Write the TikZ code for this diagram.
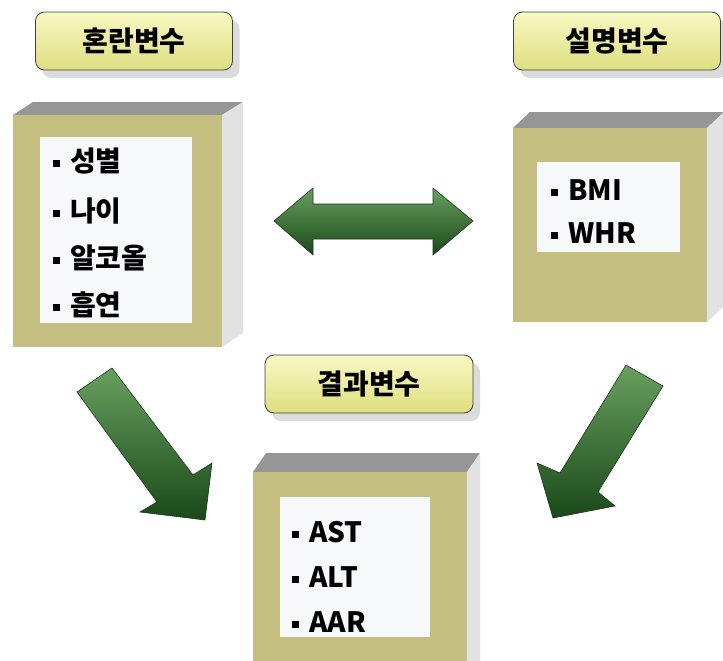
\documentclass[tikz,border=0pt]{standalone}
\usepackage{fontspec}
\setmainfont{Noto Sans CJK KR}
\usetikzlibrary{shadows}

\definecolor{boxfront}{RGB}{196,190,128}
\definecolor{boxtop}{RGB}{150,150,150}
\definecolor{boxside}{RGB}{226,226,226}
\definecolor{panelwhite}{RGB}{246,248,250}
\definecolor{titlelight}{RGB}{248,248,196}
\definecolor{titledark}{RGB}{222,222,128}
\definecolor{arrowlight}{RGB}{104,160,94}
\definecolor{arrowdark}{RGB}{26,72,26}
\definecolor{arrowedge}{RGB}{30,52,30}

\newcommand{\itemmark}{\rule[0.3ex]{7pt}{7pt}\hspace{10pt}}

\begin{document}
\begin{tikzpicture}[x=1pt,y=-1pt,
    title/.style={draw=black!75, thick, rounded corners=9pt,
        top color=titlelight, bottom color=titledark,
        minimum height=58pt, font=\fontsize{28}{30}\selectfont\bfseries,
        drop shadow={shadow xshift=7pt, shadow yshift=-8pt, fill=black!28}},
    panel/.style={fill=panelwhite, draw=none, inner sep=0pt},
    item/.style={anchor=west, inner sep=0pt, font=\fontsize{28}{30}\selectfont\bfseries},
    bigarrow/.style={draw=arrowedge, line width=0.6pt,
        top color=arrowlight, bottom color=arrowdark}]
    \useasboundingbox (0,0) rectangle (723,661);

    % Confounder box
    \fill[boxtop] (13,115) -- (33,102) -- (243,102) -- (222,115) -- cycle;
    \fill[boxside] (222,115) -- (243,102) -- (243,333) -- (222,347) -- cycle;
    \fill[boxfront] (13,115) rectangle (222,347);
    \node[panel, minimum width=152pt, minimum height=186pt] (confpanel) at (116,230) {};
    \node[title, minimum width=197pt] (conftitle) at (134,41) {혼란변수};
    \node[item] (sex) at (53,161) {\itemmark 성별};
    \node[item] (age) at (53,211) {\itemmark 나이};
    \node[item] (alcohol) at (53,258) {\itemmark 알코올};
    \node[item] (smoking) at (53,305) {\itemmark 흡연};

    % Explanatory box
    \fill[boxtop] (513,128) -- (530,112) -- (724,112) -- (707,128) -- cycle;
    \fill[boxside] (707,128) -- (724,112) -- (724,306) -- (707,322) -- cycle;
    \fill[boxfront] (513,128) rectangle (707,322);
    \node[panel, minimum width=143pt, minimum height=90pt] (explpanel) at (608,207) {};
    \node[title, minimum width=207pt] (expltitle) at (617,41) {설명변수};
    \node[item] (bmi) at (551,190) {\itemmark BMI};
    \node[item] (whr) at (551,233) {\itemmark WHR};

    % Outcome box
    \fill[boxtop] (253,472) -- (266,453) -- (480,453) -- (467,472) -- cycle;
    \fill[boxside] (467,472) -- (480,453) -- (480,661) -- (467,661) -- cycle;
    \fill[boxfront] (253,472) rectangle (467,661);
    \node[panel, minimum width=150pt, minimum height=140pt] (outpanel) at (355,567) {};
    \node[title, minimum width=208pt] (outtitle) at (369,384) {결과변수};
    \node[item] (ast) at (292,532) {\itemmark AST};
    \node[item] (alt) at (292,577) {\itemmark ALT};
    \node[item] (aar) at (292,622) {\itemmark AAR};

    % Block arrows
    \draw[bigarrow] (274,221) -- (313,188) -- (313,204) -- (433,204) -- (433,188)
        -- (473,221) -- (433,255) -- (433,239) -- (313,239) -- (313,255) -- cycle;
    \draw[bigarrow] (77,392) -- (112,368) -- (193,475) -- (212,463) -- (205,520)
        -- (140,512) -- (157,502) -- cycle;
    \draw[bigarrow] (626,365) -- (663,386) -- (598,492) -- (615,506) -- (553,518)
        -- (537,463) -- (560,473) -- cycle;
\end{tikzpicture}
\end{document}
